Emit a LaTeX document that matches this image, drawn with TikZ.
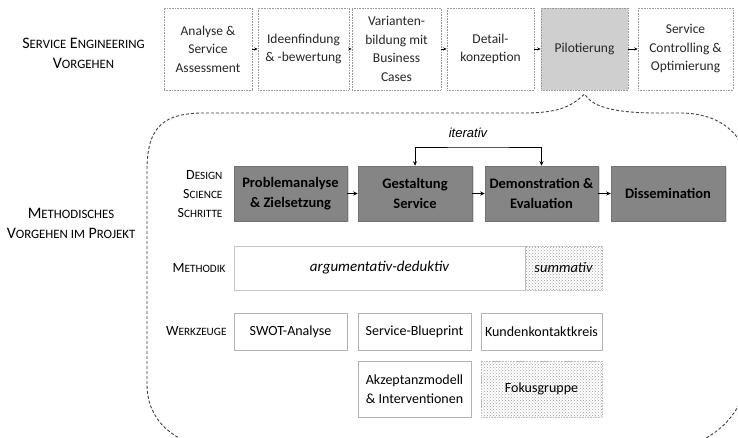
\documentclass[tikz,border=0pt]{standalone}
\usepackage{fontspec}
\setmainfont{Carlito}
\newfontfamily\arialfont{Liberation Sans}
\usetikzlibrary{arrows.meta}
\usetikzlibrary{patterns}
\usetikzlibrary{shadows}
\makeatletter
\newcommand{\sm}[1]{{\fontsize{\fpeval{0.8*\f@size}}{\f@baselineskip}\selectfont\MakeUppercase{#1}}}
\makeatother

\begin{document}
\begin{tikzpicture}[x=1pt, y=-1pt,
  seBox/.style={draw=gray!80, densely dotted, line width=0.6pt, minimum height=82pt, inner sep=0pt, align=center, text=black!85, font=\fontsize{13.5}{18.5}\selectfont},
  dsBox/.style={fill=black!48, draw=black!55, line width=0.5pt, minimum height=55pt, inner sep=0pt, align=center, font=\bfseries\fontsize{14.5}{20}\selectfont, drop shadow={opacity=0.3, shadow xshift=1.5pt, shadow yshift=-1.5pt}},
  mtBox/.style={draw=gray!45, line width=0.6pt, minimum height=44pt, inner sep=0pt, font=\itshape\fontsize{14.5}{16}\selectfont},
  wzBox/.style={draw=gray!60, line width=0.6pt, inner sep=0pt, align=center, font=\fontsize{14}{19}\selectfont},
  dotFill/.style={pattern=crosshatch dots, pattern color=gray!75, draw=gray!50, densely dotted},
  bigLbl/.style={align=center, font=\fontsize{16}{20}\selectfont},
  rowLbl/.style={anchor=east, align=right, font=\fontsize{14}{19}\selectfont},
  sArr/.style={-{Stealth[length=3.5pt,width=3pt]}, line width=0.6pt},
  dArr/.style={-{Stealth[length=4.5pt,width=4pt]}, line width=0.8pt},
  brace/.style={draw=black!75, line width=0.9pt, dash pattern=on 3pt off 2pt}]
\useasboundingbox (0,0) rectangle (738,438);

% service engineering
\node[bigLbl] (seL) at (83.5,53) {S\sm{ervice} E\sm{ngineering}\\V\sm{orgehen}};
\node[seBox, minimum width=88pt] (analyse) at (208,49) {Analyse \&\\Service\\Assessment};
\node[seBox, minimum width=91pt] (ideen) at (303.5,49) {Ideenfindung\\\& -bewertung};
\node[seBox, minimum width=89pt] (varianten) at (396.5,49) {Varianten-\\bildung mit\\Business\\Cases};
\node[seBox, minimum width=87pt] (detail) at (490.5,49) {Detail-\\konzeption};
\node[seBox, minimum width=87pt, fill=gray!38] (pilot) at (584.5,49) {Pilotierung};
\node[seBox, minimum width=95pt] (controlling) at (685.5,49) {Service\\Controlling \&\\Optimierung};
\draw[sArr] (analyse) -- (ideen);
\draw[sArr] (ideen) -- (varianten);
\draw[sArr] (varianten) -- (detail);
\draw[sArr] (detail) -- (pilot);
\draw[sArr] (pilot) -- (controlling);

% brace
\begin{scope}
\clip (0,0) rectangle (738,438);
\draw[brace] (215,452) .. controls (170,440) and (147,420) .. (147,383) -- (147,170)
  .. controls (147,125) and (165,113) .. (205,113) -- (530,113)
  .. controls (560,112) and (572,106) .. (pilot.south |- 0,94)
  .. controls (592,106) and (610,112) .. (650,113) -- (680,113)
  .. controls (718,113) and (752,132) .. (752,190) -- (752,330)
  .. controls (752,400) and (735,430) .. (680,450);
\end{scope}
\node[bigLbl] (mvL) at (71,223) {M\sm{ethodisches}\\V\sm{orgehen im} P\sm{rojekt}};

% design science
\node[rowLbl] (dsL) at (226,194) {D\sm{esign}\\S\sm{cience}\\S\sm{chritte}};
\node[dsBox, minimum width=113pt] (problem) at (290.5,193.5) {Problemanalyse\\\& Zielsetzung};
\node[dsBox, minimum width=114pt] (gestaltung) at (415,193.5) {Gestaltung\\Service};
\node[dsBox, minimum width=113pt] (demo) at (541.5,193.5) {Demonstration \&\\Evaluation};
\node[dsBox, minimum width=114pt] (dissem) at (668,193.5) {Dissemination};
\draw[dArr] (problem) -- (gestaltung);
\draw[dArr] (gestaltung) -- (demo);
\draw[dArr] (demo) -- (dissem);
\coordinate (itTop) at (478,147);
\draw[{Stealth[length=4.5pt,width=4pt]}-{Stealth[length=4.5pt,width=4pt]}, line width=0.8pt] (gestaltung.north) |- (itTop) -| (demo.north);
\node[font=\arialfont\itshape\fontsize{13}{15}\selectfont] (itL) at (468,133) {iterativ};

% methodik
\node[rowLbl] (mtL) at (229,268) {M\sm{ethodik}};
\node[mtBox, minimum width=291pt, font=\itshape\fontsize{15}{17}\selectfont] (argum) at (379.5,268) {argumentativ-deduktiv};
\node[mtBox, dotFill, minimum width=77pt] (summ) at (563.5,268) {summativ};

% werkzeuge
\node[rowLbl] (wzL) at (230,331.5) {W\sm{erkzeuge}};
\node[wzBox, minimum width=113pt, minimum height=37pt] (swot) at (290.5,331.5) {SWOT-Analyse};
\node[wzBox, minimum width=113pt, minimum height=37pt] (blueprint) at (414.5,331.5) {Service-Blueprint};
\node[wzBox, minimum width=121pt, minimum height=37pt] (kunden) at (541.5,331.5) {Kundenkontaktkreis};
\node[wzBox, minimum width=113pt, minimum height=56pt] (akzeptanz) at (414.5,389) {Akzeptanzmodell\\\& Interventionen};
\node[wzBox, dotFill, minimum width=121pt, minimum height=56pt] (fokus) at (541.5,389) {Fokusgruppe};
\end{tikzpicture}
\end{document}
